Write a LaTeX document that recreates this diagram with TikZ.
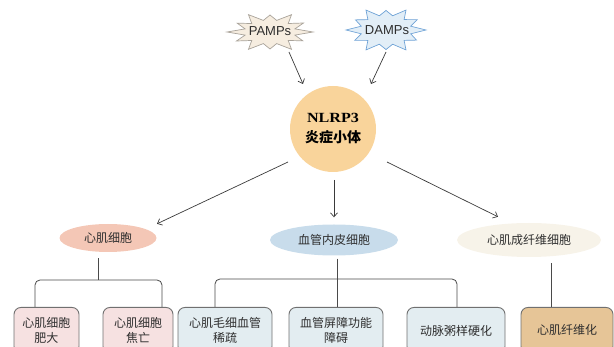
\documentclass[tikz,border=0pt]{standalone}
\usepackage{fontspec}
\setmainfont{Liberation Sans}
\newfontfamily\cjk{Noto Sans CJK SC}
\newfontfamily\serifbold{Liberation Serif}[FakeStretch=1.15]
\usetikzlibrary{calc,arrows.meta,shapes.geometric}
\definecolor{txt}{HTML}{2E2E2E}
\definecolor{circfill}{HTML}{F9D49B}
\definecolor{cmfill}{HTML}{F4C7B6}
\definecolor{endofill}{HTML}{C8DCEB}
\definecolor{fibfill}{HTML}{F7F3E9}
\definecolor{pinkbox}{HTML}{F6E1E1}
\definecolor{bluebox}{HTML}{E3EDF1}
\definecolor{orangebox}{HTML}{E6C597}
\definecolor{boxline}{HTML}{707070}
\definecolor{treeline}{HTML}{4A4A4A}
\definecolor{arrowcol}{HTML}{3A3A3A}
\definecolor{pampfill}{HTML}{F6EDE0}
\definecolor{pampline}{HTML}{A9A39A}
\definecolor{dampfill}{HTML}{E2EEF7}
\definecolor{dampline}{HTML}{6FA3D6}
\newcommand\mystar[6]{%
  \draw[#5] ({#1+#3},#2)
  \foreach \a/\f in {30/0.88,60/1,90/0.85,120/1,150/0.9,180/1,210/0.88,240/1,270/0.85,300/1,330/0.9,360/1}
  { -- ({#1+#3*#6*cos(\a-15)},{#2+#4*#6*sin(\a-15)}) -- ({#1+#3*\f*cos(\a)},{#2+#4*\f*sin(\a)}) } -- cycle;}
\begin{document}
\begin{tikzpicture}[x=1pt,y=-1pt,
  cell/.style={ellipse, draw=none, inner sep=0pt, text=txt, font=\cjk\fontsize{12}{14}\selectfont},
  leaf/.style={draw=boxline, line width=0.9pt, rounded corners=7pt, minimum height=46pt, anchor=north,
    align=center, inner sep=0pt, text=txt, font=\cjk\fontsize{12}{15}\selectfont},
  startext/.style={inner sep=0pt, text=txt, font=\fontsize{13}{15}\selectfont},
  arr/.style={draw=arrowcol, line width=0.7pt, -{Straight Barb[length=4pt,width=7pt]}},
  tree/.style={draw=treeline, line width=0.8pt}]
\useasboundingbox (0,0) rectangle (614,347);
\clip (0,0) rectangle (614,347);

% stimuli
\mystar{270}{32}{43}{20}{draw=pampline, fill=pampfill, line width=0.7pt}{0.6}
\mystar{386}{30}{40}{23}{draw=dampline, fill=dampfill, line width=0.7pt}{0.64}
\node[startext] (pamps) at (270,31) {PAMPs};
\node[startext] (damps) at (387,30) {DAMPs};

% central node
\node[circle, fill=circfill, minimum size=86pt, inner sep=0pt, align=center, text=black,
  font=\fontsize{14}{20}\selectfont\bfseries] (nlrp) at (333,129)
  {{\serifbold NLRP3}\\{\cjk 炎症小体}};

% cell types
\node[cell, fill=cmfill, minimum width=97pt, minimum height=28pt] (cm) at (108,238) {心肌细胞};
\node[cell, fill=endofill, minimum width=128pt, minimum height=31pt] (endo) at (334,240) {血管内皮细胞};
\node[cell, fill=fibfill, minimum width=144pt, minimum height=34pt] (fib) at (529,240) {心肌成纤维细胞};

% outcomes
\node[leaf, fill=pinkbox, minimum width=65pt] (b1) at (46.5,307) {心肌细胞\\肥大};
\node[leaf, fill=pinkbox, minimum width=70pt] (b2) at (138,307) {心肌细胞\\焦亡};
\node[leaf, fill=bluebox, minimum width=94pt] (b3) at (225,307) {心肌毛细血管\\稀疏};
\node[leaf, fill=bluebox, minimum width=94pt] (b4) at (336,307) {血管屏障功能\\障碍};
\node[leaf, fill=bluebox, minimum width=98pt] (b5) at (456,307) {动脉粥样硬化};
\node[leaf, fill=orangebox, minimum width=92pt] (b6) at (567,307) {心肌纤维化};

% arrows
\draw[arr] ($(pamps)+(19,21)$) -- ($(nlrp)+(-30,-45)$);
\draw[arr] ($(damps)+(-1,22)$) -- ($(nlrp)+(38,-45)$);
\draw[arr] ($(nlrp)+(-45,33)$) -- ($(cm.north)+(49,0)$);
\draw[arr] ($(nlrp)+(1,51)$) -- ($(endo.north)+(0,-7)$);
\draw[arr] ($(nlrp)+(54,33)$) -- ($(fib.north)+(-31,-6)$);

% tree connectors
\draw[tree] ($(cm.south)+(-10,6)$) -- ($(cm.south)+(-10,28)$);
\draw[tree, rounded corners=5pt] ($(b1.north)+(-11.5,0)$) |- ($(b2.north)+(24,-27)$) -- ($(b2.north)+(24,0)$);
\draw[tree] ($(endo.south)+(3,3)$) -- ($(b4.north)+(1,0)$);
\draw[tree, rounded corners=5pt] ($(b3.north)+(-10,0)$) |- ($(b5.north)+(1,-28)$) -- ($(b5.north)+(1,0)$);
\draw[tree] ($(fib.south)+(22,6)$) -- ($(b6.north)+(-16,0)$);
\end{tikzpicture}
\end{document}
